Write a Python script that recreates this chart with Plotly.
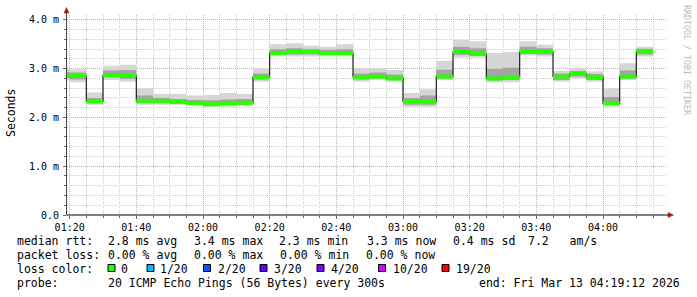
import pandas as pd
import plotly.graph_objects as go

# ---------------- data (ms) ----------------
first_bin_start = "2026-03-13 01:19:12"   # partial bin before 01:20
bin_start = "2026-03-13 01:20:00"
step_minutes = 5
range_start = "2026-03-13 01:19:12"
range_end = "2026-03-13 04:19:12"

ping_med = [2.87, 2.85, 2.33, 2.87, 2.85, 2.34, 2.34, 2.32, 2.29, 2.27, 2.29, 2.30,
            2.83, 3.32, 3.35, 3.35, 3.32, 3.32, 2.83, 2.84, 2.80, 2.33, 2.33, 2.84,
            3.34, 3.30, 2.80, 2.83, 3.34, 3.35, 2.84, 2.89, 2.83, 2.29, 2.84, 3.35]
ping_min = [2.75, 2.72, 2.26, 2.77, 2.73, 2.26, 2.26, 2.26, 2.26, 2.22, 2.22, 2.24,
            2.73, 3.25, 3.25, 3.25, 3.25, 3.25, 2.73, 2.77, 2.73, 2.22, 2.22, 2.77,
            3.23, 3.23, 2.72, 2.72, 3.27, 3.25, 2.73, 2.80, 2.73, 2.22, 2.77, 3.25]
ping_lo = [2.80, 2.78, 2.29, 2.82, 2.79, 2.29, 2.29, 2.28, 2.27, 2.24, 2.25, 2.26,
           2.78, 3.28, 3.29, 3.29, 3.28, 3.28, 2.78, 2.80, 2.77, 2.26, 2.26, 2.80,
           3.28, 3.27, 2.76, 2.77, 3.30, 3.29, 2.77, 2.84, 2.77, 2.26, 2.80, 3.29]
ping_hi = [2.93, 2.92, 2.40, 2.96, 2.97, 2.45, 2.40, 2.38, 2.36, 2.35, 2.37, 2.38,
           2.90, 3.40, 3.42, 3.40, 3.39, 3.40, 2.90, 2.92, 2.88, 2.40, 2.45, 2.98,
           3.45, 3.42, 3.00, 3.02, 3.45, 3.42, 2.90, 2.95, 2.89, 2.42, 2.96, 3.41]
ping_max = [3.00, 2.99, 2.51, 3.06, 3.08, 2.60, 2.48, 2.48, 2.45, 2.46, 2.50, 2.48,
            3.00, 3.50, 3.52, 3.47, 3.45, 3.50, 3.00, 3.01, 2.97, 2.50, 2.58, 3.16,
            3.59, 3.56, 3.32, 3.34, 3.56, 3.49, 2.95, 3.01, 2.94, 2.60, 3.11, 3.45]

y_tickvals = [0, 1, 2, 3, 4]
y_ticktext = ["0.0", "1.0 m", "2.0 m", "3.0 m", "4.0 m"]

legend_rows = [
    [("median rtt:", 16), ("2.8 ms avg", 107.3), ("3.4 ms max", 193.3), ("2.3 ms min", 278.3),
     ("3.3 ms now", 366), ("0.4 ms sd", 451.7), ("7.2   am/s", 527.3)],
    [("packet loss:", 16), ("0.00 % avg", 107.3), ("0.00 % max", 193.3), ("0.00 % min", 279.3),
     ("0.00 % now", 365)],
    [("loss color:", 16)],
    [("probe:", 16), ("20 ICMP Echo Pings (56 Bytes) every 300s", 107.3),
     ("end: Fri Mar 13 04:19:12 2026", 478.3)],
]
legend_row_y = [241, 255, 268.5, 282.5]
loss_labels = ["0", "1/20", "2/20", "3/20", "4/20", "10/20", "19/20"]
loss_colors = ["#26ff00", "#00b8ff", "#0059ff", "#5e00ff", "#7e00ff", "#dd00ff", "#ff0000"]
loss_square_x = [108, 147, 203.5, 260, 317, 378.5, 442]
loss_text_x = [120, 159.3, 216.7, 273.3, 330, 391.7, 455]

# ---------------- geometry ----------------
W, H = 697, 297
L, T, PW, PH = 67, 15, 600, 200
R = W - L - PW
B = H - T - PH


def px(x):
    return (x - L) / PW


def py(y):
    return (T + PH - y) / PH


n_full = len(ping_med) - 1
times = [pd.Timestamp(first_bin_start)] + list(
    pd.date_range(bin_start, periods=n_full + 1, freq=f"{step_minutes}min"))


def ext(v):
    return list(v) + [v[-1]]


fig = go.Figure()


def band(lo, hi, color):
    fig.add_trace(go.Scatter(x=times, y=ext(lo), mode="lines", line=dict(width=0, shape="hv"),
                             hoverinfo="skip", showlegend=False))
    fig.add_trace(go.Scatter(x=times, y=ext(hi), mode="lines", line=dict(width=0, shape="hv"),
                             fill="tonexty", fillcolor=color, hoverinfo="skip", showlegend=False))


band(ping_min, ping_max, "#d6d6d6")
band(ping_lo, ping_hi, "#a4a4a4")

# median line (black) + loss-colour band
fig.add_trace(go.Scatter(x=times, y=ext(ping_med), mode="lines",
                         line=dict(width=1.2, color="#202020", shape="hv"),
                         hoverinfo="skip", showlegend=False))
half = 2 / (PH / 4.1)  # 2 px half-thickness in data units
band([m - half for m in ping_med], [m + half for m in ping_med], loss_colors[0])

grid_minor = "#cfcfcf"
grid_major = "#e4a0a0"

fig.update_xaxes(
    type="date", range=[range_start, range_end],
    tick0="2026-03-13 01:20:00", dtick=20 * 60 * 1000, tickformat="%H:%M",
    showgrid=True, gridcolor=grid_major, griddash="1px,1px", gridwidth=1,
    minor=dict(dtick=5 * 60 * 1000, showgrid=True, gridcolor=grid_minor, griddash="1px,1px",
               ticks="outside", ticklen=2, tickcolor="#666"),
    ticks="outside", ticklen=3, tickcolor="#666",
    showline=False, zeroline=False,
    tickfont=dict(family="DejaVu Sans Mono", size=10, color="#000"),
)
fig.update_yaxes(
    range=[0, 4.1], tickvals=y_tickvals, ticktext=y_ticktext,
    showgrid=True, gridcolor=grid_major, griddash="1px,1px", gridwidth=1,
    minor=dict(dtick=0.2, showgrid=True, gridcolor=grid_minor, griddash="1px,1px",
               ticks="outside", ticklen=2, tickcolor="#666"),
    ticks="outside", ticklen=3, tickcolor="#666",
    showline=False, zeroline=False, ticklabelstandoff=2,
    tickfont=dict(family="DejaVu Sans Mono", size=10, color="#000"),
)

shapes = []
# axis lines
shapes.append(dict(type="line", xref="paper", yref="paper", x0=px(L - 0.5), x1=px(669),
                   y0=py(215), y1=py(215), line=dict(color="#000", width=1), layer="above"))
shapes.append(dict(type="line", xref="paper", yref="paper", x0=px(L - 0.5), x1=px(L - 0.5),
                   y0=py(215), y1=py(12), line=dict(color="#444", width=1), layer="above"))
# arrows
arrow = "#9b1c1c"
shapes.append(dict(type="path", xref="paper", yref="paper",
                   path=f"M {px(668)},{py(212.5)} L {px(673.5)},{py(215)} L {px(668)},{py(217.5)} Z",
                   fillcolor=arrow, line=dict(color=arrow, width=0.5), layer="above"))
shapes.append(dict(type="path", xref="paper", yref="paper",
                   path=f"M {px(L - 3)},{py(13)} L {px(L - 0.5)},{py(7.5)} L {px(L + 2)},{py(13)} Z",
                   fillcolor=arrow, line=dict(color=arrow, width=0.5), layer="above"))
# loss colour squares
for xs, c in zip(loss_square_x, loss_colors):
    shapes.append(dict(type="rect", xref="paper", yref="paper", x0=px(xs), x1=px(xs + 7),
                       y0=py(264.5), y1=py(271.5), fillcolor=c, line=dict(color="#000", width=1)))

annotations = []
mono = "DejaVu Sans Mono"
for row, yy in zip(legend_rows, legend_row_y):
    for text, xx in row:
        annotations.append(dict(text=text, x=px(xx), y=py(yy), xref="paper", yref="paper",
                                xanchor="left", yanchor="middle", showarrow=False, borderpad=0,
                                font=dict(family=mono, size=11.5, color="#000")))
for text, xx in zip(loss_labels, loss_text_x):
    annotations.append(dict(text=text, x=px(xx), y=py(legend_row_y[2]), xref="paper", yref="paper",
                            xanchor="left", yanchor="middle", showarrow=False, borderpad=0,
                            font=dict(family=mono, size=11.5, color="#000")))
annotations.append(dict(text="Seconds", x=px(11), y=py(113), xref="paper", yref="paper",
                        xanchor="center", yanchor="middle", textangle=-90, showarrow=False,
                        font=dict(family=mono, size=11.5, color="#000")))
annotations.append(dict(text="RRDTOOL / TOBI OETIKER", x=px(687), y=py(60), xref="paper", yref="paper",
                        xanchor="center", yanchor="middle", textangle=90, showarrow=False,
                        font=dict(family=mono, size=8.3, color="#bbbbbb")))

fig.update_layout(
    width=W, height=H, margin=dict(l=L, r=R, t=T, b=B, pad=0),
    paper_bgcolor="#ffffff", plot_bgcolor="#ffffff",
    shapes=shapes, annotations=annotations, showlegend=False,
)

fig.write_html("out.html")
